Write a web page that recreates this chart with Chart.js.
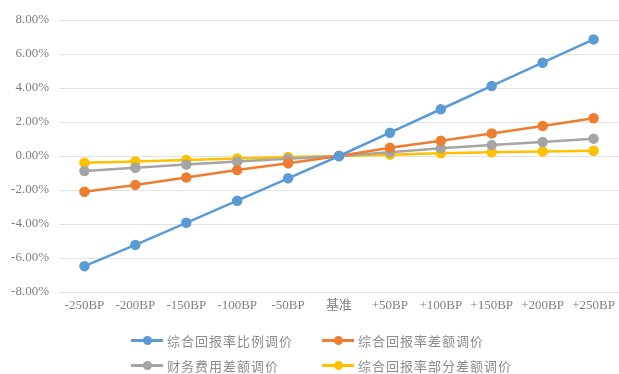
<!DOCTYPE html>
<html>
<head>
<meta charset="utf-8">
<script src="https://cdn.jsdelivr.net/npm/chart.js@4/dist/chart.umd.min.js"></script>
<style>
  html, body { margin: 0; padding: 0; background: #fff; }
  #wrap { position: relative; width: 619px; height: 374px; }
  #c { position: absolute; left: 0; top: 0; }
  .lg { position: absolute; display: flex; align-items: center; height: 16px;
        font: 13px "Noto Sans CJK SC", sans-serif; color: #8c8c8c; letter-spacing: 1px; white-space: nowrap; }
  .lg .mk { position: relative; width: 32px; height: 16px; margin-right: 4px; }
  .lg .mk i { position: absolute; left: 0; right: 0; top: 7px; height: 3px; }
  .lg .mk b { position: absolute; left: 12px; top: 4px; width: 9px; height: 9px; border-radius: 50%; }
</style>
</head>
<body>
<div id="wrap">
  <canvas id="c" width="619" height="374"></canvas>
</div>
<script>
// Rate shift scenarios (basis points) against the baseline
const categories = ['-250BP', '-200BP', '-150BP', '-100BP', '-50BP', '基准', '+50BP', '+100BP', '+150BP', '+200BP', '+250BP'];

// Percentage change for each pricing adjustment method
const ratioAdjust   = [-6.48, -5.23, -3.93, -2.63, -1.31, 0, 1.37, 2.75, 4.12, 5.49, 6.86];
const spreadAdjust  = [-2.10, -1.70, -1.26, -0.83, -0.43, 0, 0.48, 0.90, 1.33, 1.76, 2.22];
const financeCost   = [-0.88, -0.69, -0.50, -0.33, -0.16, 0, 0.22, 0.45, 0.64, 0.82, 1.02];
const partialSpread = [-0.39, -0.32, -0.24, -0.14, -0.06, 0, 0.08, 0.16, 0.22, 0.27, 0.31];

const seriesNames = ['综合回报率比例调价', '综合回报率差额调价', '财务费用差额调价', '综合回报率部分差额调价'];
const seriesColors = ['#5B9BD5', '#ED7D31', '#A5A5A5', '#FFC000'];
const seriesValues = [ratioAdjust, spreadAdjust, financeCost, partialSpread];

const yTicks = [-8, -6, -4, -2, 0, 2, 4, 6, 8];

const datasets = seriesValues.map((vals, i) => ({
  label: seriesNames[i],
  data: vals,
  borderColor: seriesColors[i],
  backgroundColor: seriesColors[i],
  borderWidth: 2.5,
  pointRadius: 4,
  pointBackgroundColor: seriesColors[i],
  pointBorderColor: seriesColors[i],
  tension: 0,
  clip: false
}));

const tickFont = { family: '"Liberation Serif", "Noto Sans CJK SC", serif', size: 13 };

new Chart(document.getElementById('c'), {
  type: 'line',
  data: { labels: categories, datasets },
  options: {
    responsive: false,
    animation: false,
    layout: { autoPadding: false, padding: { top: 20, right: 0, bottom: 0, left: 0 } },
    plugins: { legend: { display: false }, tooltip: { enabled: false } },
    scales: {
      x: {
        offset: true,
        grid: { display: false, drawTicks: false },
        border: { display: false },
        ticks: { color: '#7f7f7f', font: tickFont, padding: 6, maxRotation: 0, autoSkip: false },
        afterFit: s => { s.height = 82; s.paddingLeft = 0; s.paddingRight = 0; }
      },
      y: {
        min: yTicks[0],
        max: yTicks[yTicks.length - 1],
        afterBuildTicks: s => { s.ticks = yTicks.map(v => ({ value: v })); },
        grid: { color: '#e3e3e3', lineWidth: 1, drawTicks: false },
        border: { display: false },
        ticks: { color: '#7f7f7f', font: tickFont, padding: 10, callback: v => v.toFixed(2) + '%' },
        afterFit: s => { s.width = 59; }
      }
    }
  }
});

// Legend laid out in two rows of two entries
const legendPos = [[131, 332], [322, 332], [131, 357], [322, 357]];
const wrap = document.getElementById('wrap');
seriesNames.forEach((name, i) => {
  const el = document.createElement('div');
  el.className = 'lg';
  el.style.left = legendPos[i][0] + 'px';
  el.style.top = legendPos[i][1] + 'px';
  el.innerHTML = '<span class="mk"><i style="background:' + seriesColors[i] + '"></i><b style="background:' + seriesColors[i] + '"></b></span><span></span>';
  el.lastChild.textContent = name;
  wrap.appendChild(el);
});
</script>
</body>
</html>
